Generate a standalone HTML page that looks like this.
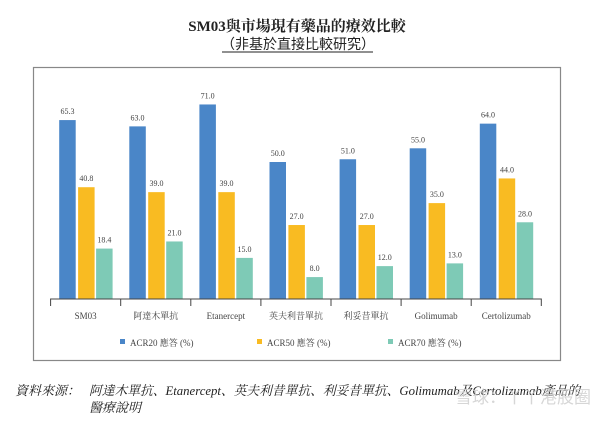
<!DOCTYPE html>
<html><head><meta charset="utf-8"><style>
body{margin:0;background:#fff;width:614px;height:417px;overflow:hidden;font-family:"Liberation Serif","Noto Serif CJK SC",serif}
</style></head><body>
<svg width="614" height="417" xmlns="http://www.w3.org/2000/svg">
<text x="297" y="31" text-anchor="middle" font-size="15" font-weight="bold" fill="#222">SM03與市場現有藥品的療效比較</text>
<text x="298" y="49" text-anchor="middle" font-size="14" fill="#222" style="font-family:'Noto Sans CJK TC',sans-serif">（非基於直接比較研究）</text>
<line x1="222" y1="52" x2="373" y2="52" stroke="#222" stroke-width="1"/>
<rect x="33.5" y="67.5" width="527" height="293" fill="none" stroke="#888" stroke-width="1.2"/>
<g id="plot"></g>
<text x="15" y="395" font-size="13" font-style="italic" fill="#222">資料來源：</text>
<text x="89" y="395" font-size="13" font-style="italic" fill="#222" textLength="491" lengthAdjust="spacingAndGlyphs">阿達木單抗、Etanercept、英夫利昔單抗、利妥昔單抗、Golimumab及Certolizumab產品的</text>
<text x="89" y="412" font-size="13" font-style="italic" fill="#222">醫療說明</text>
<text x="455" y="403" font-size="17" fill="#ccc" opacity="0.8" style="font-family:'Noto Sans CJK SC',sans-serif">雪球：丫丫港股圈</text>
</svg>
<script>
const categories=["SM03","阿達木單抗","Etanercept","英夫利昔單抗","利妥昔單抗","Golimumab","Certolizumab"];
const acr20=[65.3,63.0,71.0,50.0,51.0,55.0,64.0];
const acr50=[40.8,39.0,39.0,27.0,27.0,35.0,44.0];
const acr70=[18.4,21.0,15.0,8.0,12.0,13.0,28.0];
const seriesNames=["ACR20 應答 (%)","ACR50 應答 (%)","ACR70 應答 (%)"];
const colors=["#4a86c8","#f9bb22","#7ecab6"];
const NS="http://www.w3.org/2000/svg";
const g=document.getElementById('plot');
const x0=50.6,gw=70.1,base=299,k=2.74;
const xs=i=>x0+i*gw;
const ys=v=>base-v*k;
function mk(t,a){const e=document.createElementNS(NS,t);for(const n in a)e.setAttribute(n,a[n]);g.appendChild(e);return e;}
const series=[acr20,acr50,acr70];
const offs=[8.6,27.5,45.5];
const bw=16.5;
categories.forEach((c,i)=>{
  series.forEach((s,j)=>{
    const r=mk('rect',{x:xs(i)+offs[j],y:ys(s[i]),width:bw,height:base-ys(s[i]),fill:colors[j]});
    
    
    const t=mk('text',{x:xs(i)+offs[j]+bw/2,y:ys(s[i])-6,'text-anchor':'middle','font-size':8,fill:'#444'});
    t.textContent=s[i].toFixed(1);
    
    
  });
  const l=mk('text',{x:xs(i)+gw/2,y:319,'text-anchor':'middle','font-size':9,fill:'#444'});
  l.textContent=c;
  
  
});
const ax=mk('path',{d:`M${x0} 306V${base}H${xs(categories.length)}V306`,stroke:'#444',fill:'none','stroke-width':1});


for(let i=1;i<categories.length;i++){
  const t=mk('line',{x1:xs(i),x2:xs(i),y1:base,y2:306,stroke:'#444'});
  
  
}
const lx=[120,257,388];
seriesNames.forEach((n,j)=>{
  const r=mk('rect',{x:lx[j],y:339,width:5,height:5,fill:colors[j]});
  
  
  const t=mk('text',{x:lx[j]+10,y:346,'font-size':9,fill:'#444'});
  t.textContent=n;
  
  
});
</script>
</body></html>
